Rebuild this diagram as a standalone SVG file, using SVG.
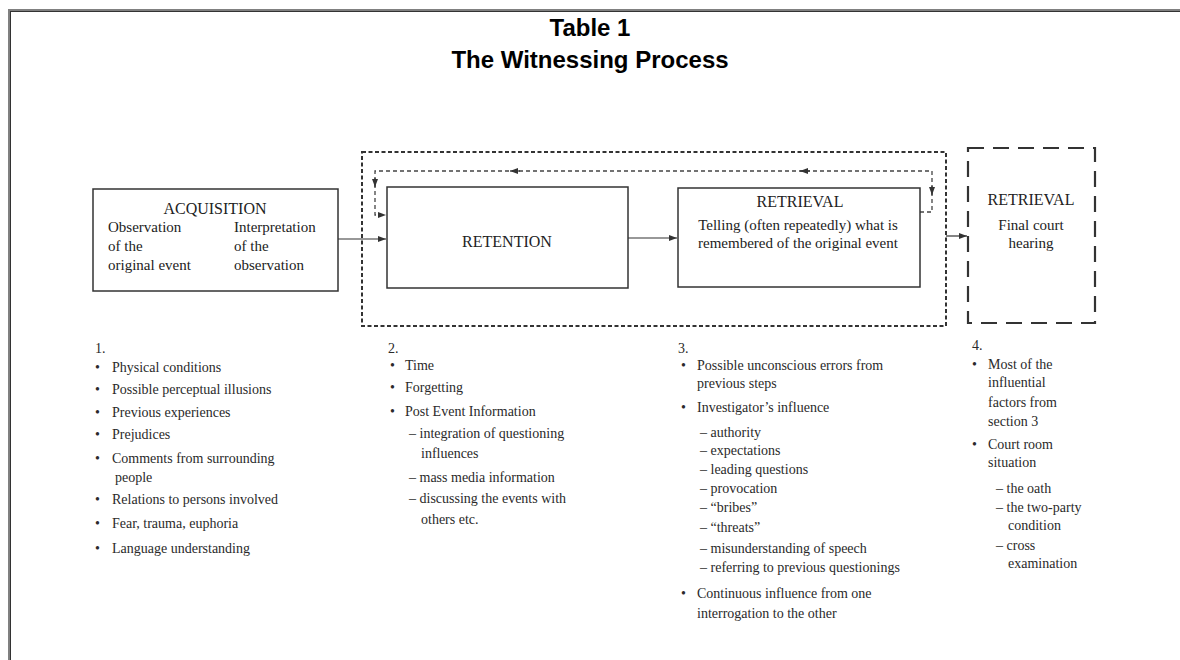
<svg xmlns="http://www.w3.org/2000/svg" width="1180" height="660" viewBox="0 0 1180 660">
<style>
.title{font-family:"Liberation Sans",Arial,sans-serif;font-weight:bold;font-size:24px;fill:#000;text-anchor:middle}
.hd{font-family:"Liberation Serif","Times New Roman",serif;font-size:16px;fill:#222;text-anchor:middle}
.bx{font-family:"Liberation Serif","Times New Roman",serif;font-size:15px;fill:#222}
.c{text-anchor:middle}
.li{font-family:"Liberation Serif","Times New Roman",serif;font-size:14px;fill:#2a2a2a}
.box{fill:#fff;stroke:#333;stroke-width:1.5}
.dotbox{fill:none;stroke:#333;stroke-width:2;stroke-dasharray:4 2.5}
.loop{fill:none;stroke:#444;stroke-width:1.3;stroke-dasharray:4 3}
.longdash{fill:none;stroke:#333;stroke-width:2.2;stroke-dasharray:16 9}
.arr{fill:none;stroke:#333;stroke-width:1.2}
</style>
<defs>
<marker id="ah" viewBox="0 0 8 6" refX="8" refY="3" markerWidth="8" markerHeight="6" markerUnits="userSpaceOnUse" orient="auto-start-reverse">
<path d="M0,0 L8,3 L0,6 z" fill="#333"/>
</marker>
</defs>
<rect width="1180" height="660" fill="#fff"/>
<g id="frame">
<line x1="8" y1="10" x2="1180" y2="10" stroke="#808080" stroke-width="2"/>
<line x1="10" y1="11.5" x2="1180" y2="11.5" stroke="#333" stroke-width="1"/>
<line x1="9" y1="9" x2="9" y2="660" stroke="#808080" stroke-width="2"/>
<line x1="10.5" y1="11" x2="10.5" y2="660" stroke="#333" stroke-width="1"/>
</g>
<g id="title">
<text class="title" x="590" y="36">Table 1</text>
<text class="title" x="590" y="68">The Witnessing Process</text>
</g>
<g id="connectors">
<rect class="dotbox" x="362" y="152" width="584" height="174"/>
<path class="loop" d="M920,212 H932 V171 H375 V215 H386" marker-end="url(#ah)"/>
<path class="arr" d="M520,171 H510" marker-end="url(#ah)"/>
<path class="arr" d="M810,171 H800" marker-end="url(#ah)"/>
<path class="arr" d="M375,178 V187" marker-end="url(#ah)"/>
<path class="arr" d="M932,186 V195" marker-end="url(#ah)"/>
<path class="arr" d="M338,239 H386" marker-end="url(#ah)"/>
<path class="arr" d="M628,238 H677" marker-end="url(#ah)"/>
<path class="arr" d="M946,236 H967" marker-end="url(#ah)"/>
<path class="arr" d="M172,247 H227" marker-start="url(#ah)" marker-end="url(#ah)"/>
</g>
<g id="acquisition">
<rect class="box" x="93" y="189" width="245" height="102"/>
<text class="hd" x="215" y="214">ACQUISITION</text>
<text class="bx" x="108" y="232">Observation</text>
<text class="bx" x="108" y="251">of the</text>
<text class="bx" x="108" y="270">original event</text>
<text class="bx" x="234" y="232">Interpretation</text>
<text class="bx" x="234" y="251">of the</text>
<text class="bx" x="234" y="270">observation</text>
</g>
<g id="retention">
<rect class="box" x="387" y="187" width="241" height="101"/>
<text class="hd" x="507" y="247">RETENTION</text>
</g>
<g id="retrieval">
<rect class="box" x="678" y="188" width="242" height="99"/>
<text class="hd" x="800" y="207">RETRIEVAL</text>
<text class="bx c" x="798" y="230">Telling (often repeatedly) what is</text>
<text class="bx c" x="798" y="248">remembered of the original event</text>
</g>
<g id="final-retrieval">
<rect class="longdash" x="968" y="148" width="127" height="175"/>
<text class="hd" x="1031" y="205">RETRIEVAL</text>
<text class="bx c" x="1031" y="230">Final court</text>
<text class="bx c" x="1031" y="248">hearing</text>
</g>
<g id="list1" class="li">
<text x="95" y="353">1.</text>
<text x="95" y="372">•</text><text x="112" y="372">Physical conditions</text>
<text x="95" y="394">•</text><text x="112" y="394">Possible perceptual illusions</text>
<text x="95" y="417">•</text><text x="112" y="417">Previous experiences</text>
<text x="95" y="439">•</text><text x="112" y="439">Prejudices</text>
<text x="95" y="463">•</text><text x="112" y="463">Comments from surrounding</text>
<text x="115" y="482">people</text>
<text x="95" y="504">•</text><text x="112" y="504">Relations to persons involved</text>
<text x="95" y="528">•</text><text x="112" y="528">Fear, trauma, euphoria</text>
<text x="95" y="553">•</text><text x="112" y="553">Language understanding</text>
</g>
<g id="list2" class="li">
<text x="388" y="353">2.</text>
<text x="390" y="370">•</text><text x="405" y="370">Time</text>
<text x="390" y="392">•</text><text x="405" y="392">Forgetting</text>
<text x="390" y="416">•</text><text x="405" y="416">Post Event Information</text>
<text x="409" y="438">– integration of questioning</text>
<text x="421" y="458">influences</text>
<text x="409" y="482">– mass media information</text>
<text x="409" y="503">– discussing the events with</text>
<text x="421" y="524">others etc.</text>
</g>
<g id="list3" class="li">
<text x="678" y="353">3.</text>
<text x="681" y="370">•</text><text x="697" y="370">Possible unconscious errors from</text>
<text x="697" y="388">previous steps</text>
<text x="681" y="412">•</text><text x="697" y="412">Investigator’s influence</text>
<text x="700" y="437">– authority</text>
<text x="700" y="455">– expectations</text>
<text x="700" y="474">– leading questions</text>
<text x="700" y="493">– provocation</text>
<text x="700" y="512">– “bribes”</text>
<text x="700" y="532">– “threats”</text>
<text x="700" y="553">– misunderstanding of speech</text>
<text x="700" y="572">– referring to previous questionings</text>
<text x="681" y="598">•</text><text x="697" y="598">Continuous influence from one</text>
<text x="697" y="618">interrogation to the other</text>
</g>
<g id="list4" class="li">
<text x="972" y="350">4.</text>
<text x="972" y="369">•</text><text x="988" y="369">Most of the</text>
<text x="988" y="387">influential</text>
<text x="988" y="407">factors from</text>
<text x="988" y="426">section 3</text>
<text x="972" y="449">•</text><text x="988" y="449">Court room</text>
<text x="988" y="467">situation</text>
<text x="996" y="493">– the oath</text>
<text x="996" y="512">– the two-party</text>
<text x="1008" y="530">condition</text>
<text x="996" y="550">– cross</text>
<text x="1008" y="568">examination</text>
</g>
</svg>
